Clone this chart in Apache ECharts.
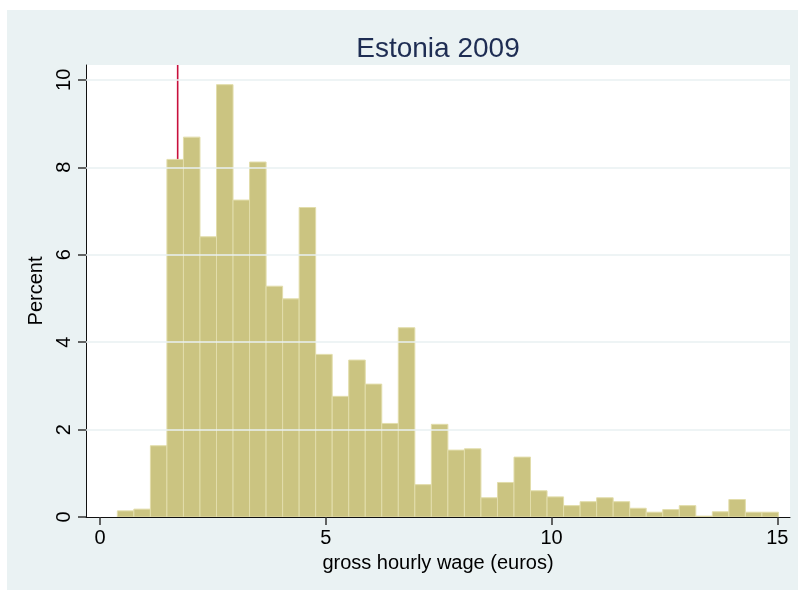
<!DOCTYPE html>
<html>
<head>
<meta charset="utf-8">
<script src="https://cdn.jsdelivr.net/npm/echarts@6/dist/echarts.min.js"></script>
<style>html,body{margin:0;padding:0;background:#fff}#c{width:798px;height:590px}</style>
</head>
<body>
<div id="c"></div>
<script>
// Histogram: percent of workers per wage bin (bins start at binStart, width binWidth)
var binStart = 0.384;
var binWidth = 0.366;
var percent = [0.14, 0.18, 1.63, 8.18, 8.69, 6.41, 9.89, 7.25, 8.12, 5.28,
               4.99, 7.08, 3.72, 2.76, 3.59, 3.04, 2.14, 4.33, 0.74, 2.12,
               1.53, 1.56, 0.44, 0.79, 1.37, 0.60, 0.46, 0.26, 0.35, 0.44,
               0.35, 0.20, 0.11, 0.17, 0.26, 0.02, 0.12, 0.40, 0.11, 0.11];
var xTicks = [0, 5, 10, 15];
var yTicks = [0, 2, 4, 6, 8, 10];
var gridY = [2, 4, 6, 8, 10];
var minWage = 1.72;
var xMin = -0.31, xMax = 15.28, yMin = 0, yMax = 10.34;

var chart = echarts.init(document.getElementById('c'), null, {renderer: 'canvas'});
var font = 'Liberation Sans, Arial, sans-serif';
var barData = percent.map(function (v, i) { return [binStart + i * binWidth, v]; });

chart.setOption({
  backgroundColor: '#eaf2f3',
  animation: false,
  graphic: [
    {type: 'rect', left: 0, top: 0, shape: {width: 798, height: 10}, style: {fill: '#ffffff'}},
    {type: 'rect', left: 0, top: 0, shape: {width: 7, height: 590}, style: {fill: '#ffffff'}}
  ],
  title: {
    text: 'Estonia 2009',
    left: 433, top: 30, textAlign: 'center',
    textStyle: {color: '#1e2d53', fontSize: 28, fontWeight: 'normal', fontFamily: font}
  },
  grid: {left: 86, top: 65, right: 8, bottom: 73, show: true, backgroundColor: '#ffffff', borderWidth: 0},
  xAxis: {
    type: 'value', min: xMin, max: xMax,
    name: 'gross hourly wage (euros)', nameLocation: 'middle', nameGap: 36,
    nameTextStyle: {color: '#000', fontSize: 20, fontFamily: font},
    axisLine: {show: true, onZero: false, lineStyle: {color: '#111', width: 1}},
    axisTick: {show: true, length: 8, customValues: xTicks, lineStyle: {color: '#333', width: 1.5}},
    axisLabel: {customValues: xTicks, color: '#000', fontSize: 20, fontFamily: font, margin: 11},
    splitLine: {show: false}
  },
  yAxis: {
    type: 'value', min: yMin, max: yMax,
    name: 'Percent', nameLocation: 'middle', nameGap: 37,
    nameTextStyle: {color: '#000', fontSize: 20, fontFamily: font},
    axisLine: {show: true, onZero: false, lineStyle: {color: '#111', width: 1}},
    axisTick: {show: true, length: 8, customValues: yTicks, lineStyle: {color: '#333', width: 1.5}},
    axisLabel: {customValues: yTicks, rotate: 90, color: '#000', fontSize: 20, fontFamily: font, margin: 12},
    splitLine: {show: false}
  },
  series: [
    {
      type: 'line', data: [], z: 1, silent: true,
      markLine: {
        silent: true, symbol: 'none', label: {show: false},
        lineStyle: {color: '#e8f0f2', width: 1.5, type: 'solid'},
        data: gridY.map(function (v) { return {yAxis: v}; })
      }
    },
    {
      type: 'line', z: 2, silent: true, symbol: 'none',
      data: [[minWage, yMin], [minWage, yMax]],
      lineStyle: {color: '#c8103c', width: 1.6}
    },
    {
      type: 'custom', z: 3, clip: true,
      data: barData,
      encode: {x: 0, y: 1},
      renderItem: function (params, api) {
        var s = api.value(0), h = api.value(1);
        var p0 = api.coord([s, h]);
        var p1 = api.coord([s + binWidth, 0]);
        return {
          type: 'rect',
          shape: {x: p0[0], y: p0[1], width: p1[0] - p0[0], height: p1[1] - p0[1]},
          style: {fill: '#cbc481', stroke: '#e2ddab', lineWidth: 1}
        };
      }
    }
  ]
});
</script>
</body>
</html>
